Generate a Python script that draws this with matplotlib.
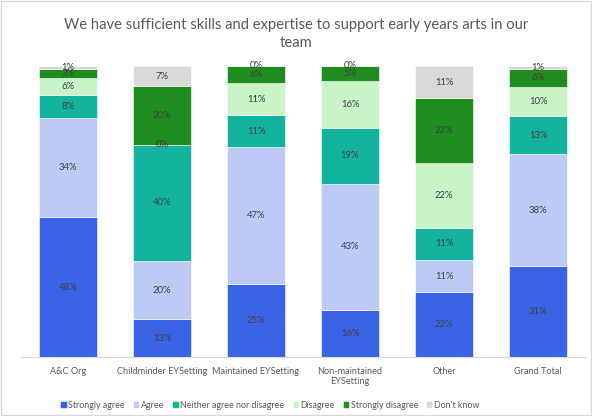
import matplotlib
matplotlib.use("Agg")
import matplotlib.pyplot as plt
import numpy as np
from matplotlib.patches import Rectangle

plt.rcParams['font.family'] = ['Lato', 'DejaVu Sans']

categories = ["A&C Org", "Childminder EYSetting", "Maintained EYSetting",
              "Non-maintained\nEYSetting", "Other", "Grand Total"]
series_names = ["Strongly agree", "Agree", "Neither agree nor disagree",
                "Disagree", "Strongly disagree", "Don't know"]
strongly_agree = [48, 13, 25, 16, 22, 31]
agree = [34, 20, 47, 43, 11, 38]
neither = [8, 40, 11, 19, 11, 13]
disagree = [6, 0, 11, 16, 22, 10]
strongly_disagree = [3, 20, 6, 5, 22, 6]
dont_know = [1, 7, 0, 0, 11, 1]

colors = ["#3A63E6", "#BCCAF5", "#14B39E", "#C8F4C8", "#1F8C1F", "#D9D9D9"]

data = np.array([strongly_agree, agree, neither, disagree, strongly_disagree, dont_know], dtype=float)
totals = data.sum(axis=0)
frac = data / totals

fig = plt.figure(figsize=(5.92, 4.16), dpi=100)
fig.patches.append(Rectangle((0.002, 0.002), 0.996, 0.996, transform=fig.transFigure,
                             fill=False, edgecolor="#D9D9D9", linewidth=1))
ax = fig.add_axes([21/592, 1-357/416, 564/592, (357-66)/416])

x = np.arange(len(categories))
bottom = np.zeros(len(categories))
for i, name in enumerate(series_names):
    ax.bar(x, frac[i], 0.62, bottom=bottom, color=colors[i], label=name,
           edgecolor="white", linewidth=0.4)
    for j in range(len(categories)):
        ax.text(x[j], bottom[j] + frac[i][j] / 2, f"{int(data[i][j])}%",
                ha="center", va="center", fontsize=6.8, color="#404040")
    bottom += frac[i]

ax.set_xlim(-0.5, len(categories) - 0.5)
ax.set_ylim(0, 1)
ax.set_yticks([])
ax.set_xticks(x)
ax.set_xticklabels(categories, fontsize=6.6, color="#595959")
ax.tick_params(axis="x", length=0, pad=7)
for s in ["top", "right", "left"]:
    ax.spines[s].set_visible(False)
ax.spines["bottom"].set_color("#D9D9D9")

fig.text(0.5, 1-34/416, "We have sufficient skills and expertise to support early years arts in our\nteam",
         ha="center", va="center", fontsize=10.6, color="#595959", linespacing=1.35)

handles, labels = ax.get_legend_handles_labels()
fig.legend(handles, labels, loc="center", bbox_to_anchor=(270/592, 1-405/416), ncol=6,
           frameon=False, fontsize=6.4, handlelength=0.7, handleheight=0.7,
           handletextpad=0.2, columnspacing=0.9, labelcolor="#595959")

fig.savefig("out.png", dpi=100)
